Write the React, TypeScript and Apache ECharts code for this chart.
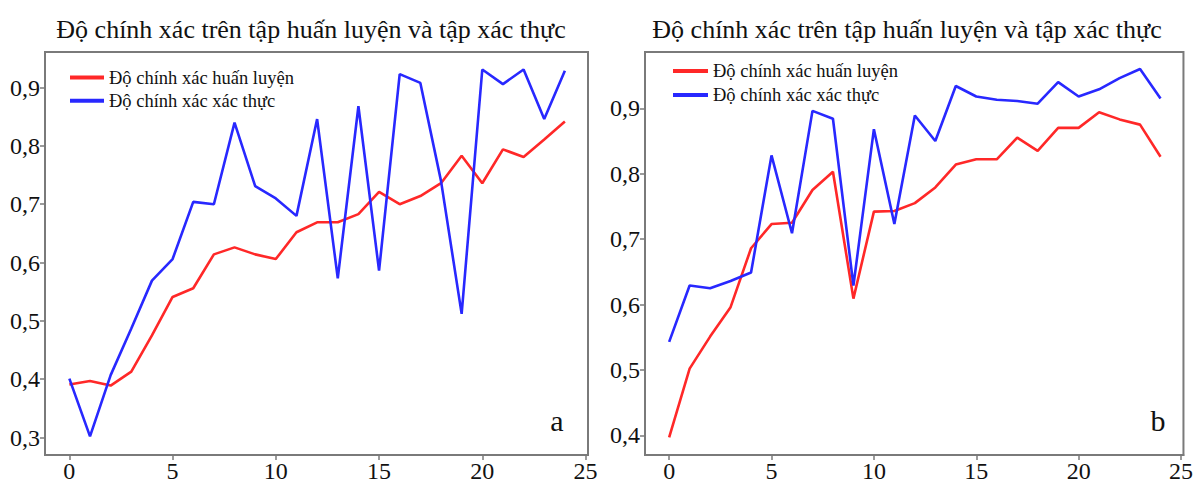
import React, { useEffect, useRef } from 'react';
import * as echarts from 'echarts';

const titleText = 'Độ chính xác trên tập huấn luyện và tập xác thực';
const trainName = 'Độ chính xác huấn luyện';
const valName = 'Độ chính xác xác thực';

const epochs = [0, 1, 2, 3, 4, 5, 6, 7, 8, 9, 10, 11, 12, 13, 14, 15, 16, 17, 18, 19, 20, 21, 22, 23, 24];

const trainA = [0.391, 0.397, 0.389, 0.413, 0.475, 0.541, 0.556, 0.614, 0.626, 0.614, 0.606, 0.652, 0.669, 0.669, 0.683, 0.721, 0.700, 0.714, 0.736, 0.783, 0.736, 0.794, 0.781, 0.811, 0.842];
const valA = [0.401, 0.302, 0.407, 0.487, 0.569, 0.606, 0.704, 0.700, 0.840, 0.731, 0.710, 0.680, 0.846, 0.573, 0.868, 0.586, 0.923, 0.908, 0.740, 0.512, 0.931, 0.906, 0.931, 0.846, 0.929];

const trainB = [0.397, 0.502, 0.551, 0.596, 0.686, 0.723, 0.725, 0.775, 0.803, 0.609, 0.742, 0.743, 0.755, 0.779, 0.814, 0.822, 0.822, 0.855, 0.835, 0.870, 0.870, 0.894, 0.883, 0.875, 0.826];
const valB = [0.543, 0.629, 0.625, 0.636, 0.649, 0.828, 0.709, 0.896, 0.884, 0.629, 0.868, 0.723, 0.889, 0.850, 0.934, 0.918, 0.913, 0.911, 0.907, 0.940, 0.918, 0.929, 0.946, 0.960, 0.915];

const xTicks = [0, 5, 10, 15, 20, 25];
const yTicksA = [0.3, 0.4, 0.5, 0.6, 0.7, 0.8, 0.9];
const yTicksB = [0.4, 0.5, 0.6, 0.7, 0.8, 0.9];

const FONT = 'Liberation Serif';
const AXIS_COLOR = '#7a7a7a';
const RED = '#ff2828';
const BLUE = '#2828ff';

export default function App() {
  const ref = useRef<HTMLDivElement>(null);

  useEffect(() => {
    document.body.style.margin = '0';
    const chart = echarts.init(ref.current!, null, { renderer: 'svg' });

    const pairs = (vals: number[]) => epochs.map((e, i) => [e, vals[i]]);

    const xAxisBase = (gridIndex: number) => ({
      type: 'value',
      gridIndex,
      min: -1.18,
      max: 25.12,
      splitLine: { show: false },
      axisLine: { show: true, onZero: false, lineStyle: { color: AXIS_COLOR, width: 2 } },
      axisTick: { show: true, length: 5, customValues: xTicks, lineStyle: { color: AXIS_COLOR, width: 1.5 } },
      axisLabel: { customValues: xTicks, fontFamily: FONT, fontSize: 24, color: '#111', margin: 4 },
    });

    const yAxisBase = (gridIndex: number, min: number, max: number, ticks: number[]) => ({
      type: 'value',
      gridIndex,
      min,
      max,
      splitLine: { show: false },
      axisLine: { show: true, onZero: false, lineStyle: { color: AXIS_COLOR, width: 2 } },
      axisTick: { show: true, length: 5, customValues: ticks, lineStyle: { color: AXIS_COLOR, width: 1.5 } },
      axisLabel: {
        customValues: ticks,
        fontFamily: FONT,
        fontSize: 24,
        color: '#111',
        margin: 5,
        formatter: (v: number) => v.toFixed(1).replace('.', ','),
      },
    });

    const lineSeries = (name: string, data: number[], color: string, idx: number) => ({
      type: 'line',
      name,
      xAxisIndex: idx,
      yAxisIndex: idx,
      data: pairs(data),
      showSymbol: false,
      symbol: 'none',
      lineStyle: { color, width: 2.6 },
      itemStyle: { color },
    });

    const legendBase = (left: number, top: number, itemWidth: number, itemGap: number) => ({
      left,
      top,
      orient: 'vertical',
      icon: 'rect',
      itemWidth,
      itemHeight: 4,
      itemGap,
      data: [trainName, valName],
      textStyle: { fontFamily: FONT, fontSize: 18.5, color: '#111', lineHeight: 19 },
    });

    chart.setOption({
      animation: false,
      backgroundColor: '#fff',
      grid: [
        { left: 45, top: 52, width: 543, height: 405, show: true, borderColor: AXIS_COLOR, borderWidth: 2, backgroundColor: '#fff' },
        { left: 645, top: 52, width: 544, height: 405, show: true, borderColor: AXIS_COLOR, borderWidth: 2, backgroundColor: '#fff' },
      ],
      xAxis: [xAxisBase(0), xAxisBase(1)],
      yAxis: [yAxisBase(0, 0.27, 0.961, yTicksA), yAxisBase(1, 0.37, 0.986, yTicksB)],
      legend: [legendBase(65, 63, 34, 4.3), legendBase(668, 56.5, 35, 5)],
      series: [
        lineSeries(trainName, trainA, RED, 0),
        lineSeries(valName, valA, BLUE, 0),
        lineSeries(trainName, trainB, RED, 1),
        lineSeries(valName, valB, BLUE, 1),
      ],
      graphic: [
        { type: 'text', x: 311, y: 29, style: { text: titleText, fontFamily: FONT, fontSize: 26, fill: '#111', align: 'center', verticalAlign: 'middle' } },
        { type: 'text', x: 907, y: 29, style: { text: titleText, fontFamily: FONT, fontSize: 26, fill: '#111', align: 'center', verticalAlign: 'middle' } },
        { type: 'text', x: 557, y: 420, style: { text: 'a', fontFamily: FONT, fontSize: 30, fill: '#111', align: 'center', verticalAlign: 'middle' } },
        { type: 'text', x: 1158, y: 420, style: { text: 'b', fontFamily: FONT, fontSize: 30, fill: '#111', align: 'center', verticalAlign: 'middle' } },
      ],
    });

    return () => chart.dispose();
  }, []);

  return <div ref={ref} style={{ width: 1196, height: 483 }} />;
}
